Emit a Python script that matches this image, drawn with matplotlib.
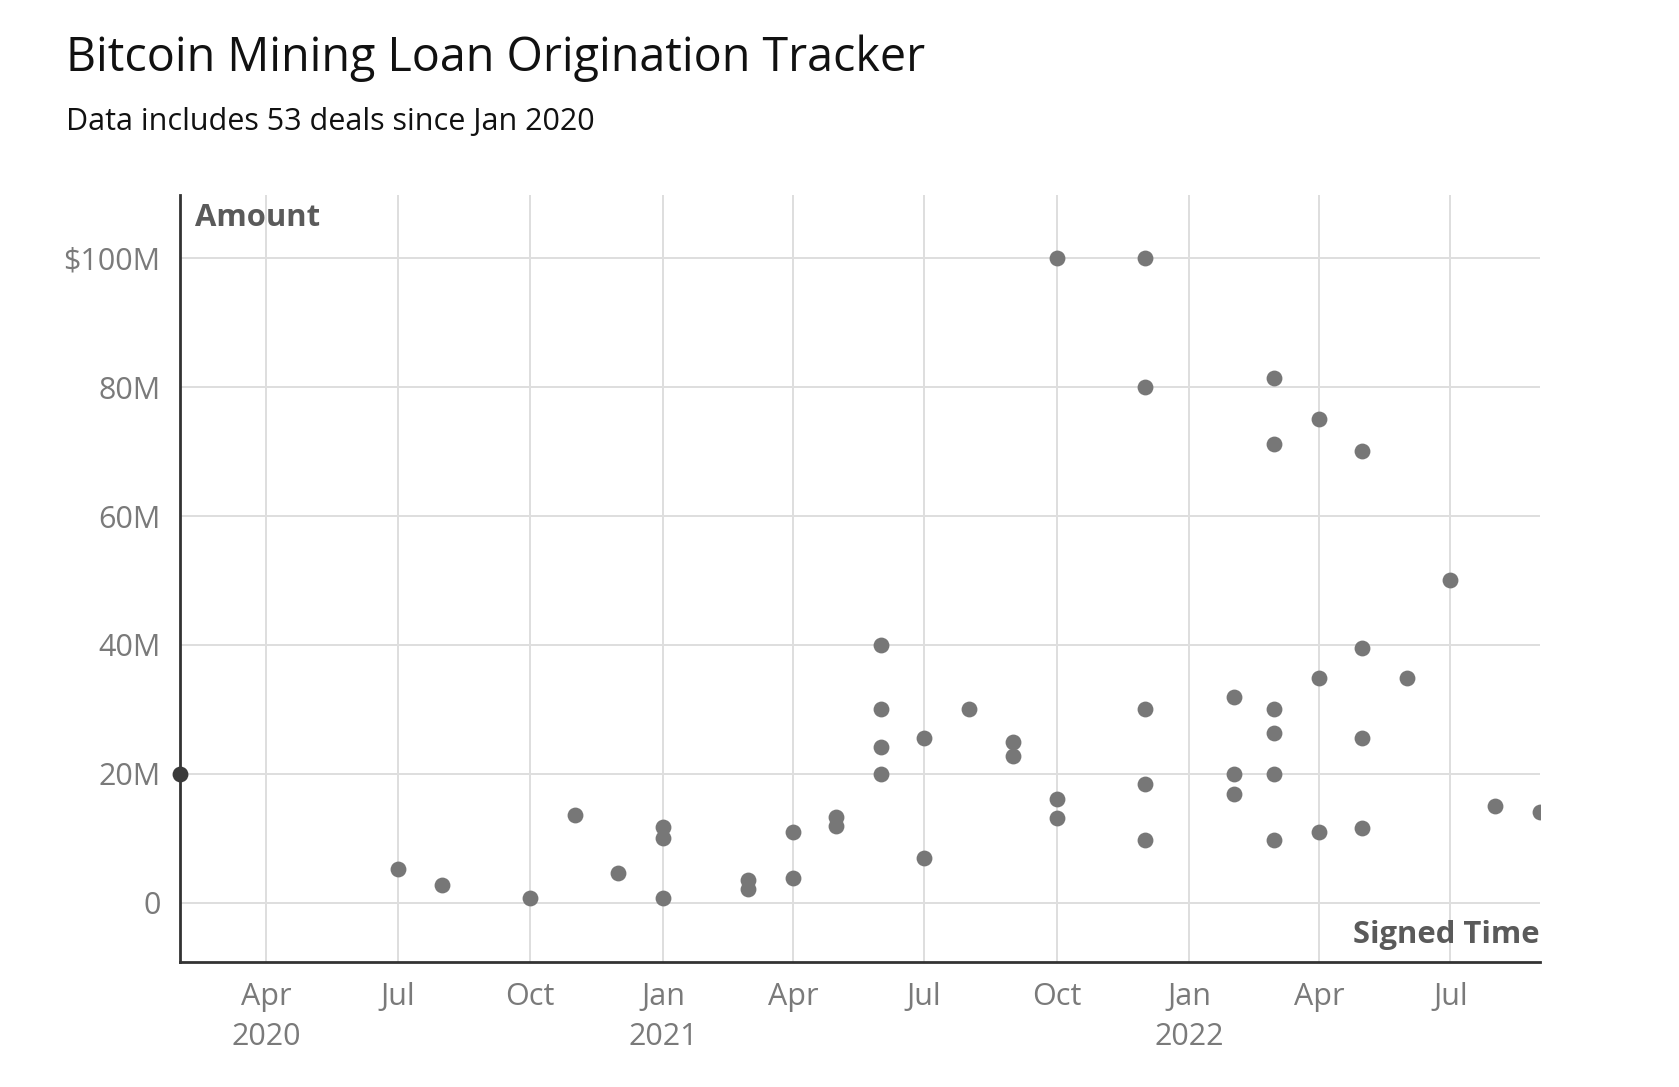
import pandas as pd
import matplotlib.pyplot as plt
import matplotlib.dates as mdates

plt.rcParams['font.family'] = ['Open Sans', 'DejaVu Sans']

# Loan deals: signed date (first of month) and amount in $M
signed = ['2020-02-01', '2020-07-01', '2020-08-01', '2020-10-01', '2020-11-01',
          '2020-12-01', '2021-01-01', '2021-01-01', '2021-01-01', '2021-03-01',
          '2021-03-01', '2021-04-01', '2021-04-01', '2021-05-01', '2021-05-01',
          '2021-06-01', '2021-06-01', '2021-06-01', '2021-06-01', '2021-07-01',
          '2021-07-01', '2021-08-01', '2021-09-01', '2021-09-01', '2021-10-01',
          '2021-10-01', '2021-10-01', '2021-12-01', '2021-12-01', '2021-12-01',
          '2021-12-01', '2021-12-01', '2022-02-01', '2022-02-01', '2022-02-01',
          '2022-03-01', '2022-03-01', '2022-03-01', '2022-03-01', '2022-03-01',
          '2022-03-01', '2022-04-01', '2022-04-01', '2022-04-01', '2022-05-01',
          '2022-05-01', '2022-05-01', '2022-05-01', '2022-06-01', '2022-07-01',
          '2022-08-01', '2022-09-01']
amount = [20, 5.2, 2.8, 0.7, 13.6,
          4.7, 11.8, 10.0, 0.8, 3.6,
          2.2, 11.0, 3.8, 13.3, 12.0,
          40, 30, 24.1, 20, 25.6,
          7.0, 30, 24.9, 22.8, 100,
          16.1, 13.1, 100, 80, 30,
          18.4, 9.8, 31.9, 20, 16.9,
          81.4, 71.1, 30, 26.4, 20,
          9.8, 75.1, 34.9, 11.0, 70.1,
          39.5, 25.6, 11.6, 34.9, 50,
          15.0, 14.1]

xticks = ['2020-04-01', '2020-07-01', '2020-10-01', '2021-01-01', '2021-04-01',
          '2021-07-01', '2021-10-01', '2022-01-01', '2022-04-01', '2022-07-01']
xticklabels = ['Apr\n2020', 'Jul', 'Oct', 'Jan\n2021', 'Apr', 'Jul', 'Oct',
               'Jan\n2022', 'Apr', 'Jul']
yticks = [0, 20, 40, 60, 80, 100]
yticklabels = ['0', '20M', '40M', '60M', '80M', '$100M']

df = pd.DataFrame({'signed': pd.to_datetime(signed), 'amount': amount})
x_start = df['signed'].min()
x_end = df['signed'].max()

fig = plt.figure(figsize=(16.79, 10.87), dpi=100)
ax = fig.add_axes([0.1071, 0.1154, 0.81, 0.7053])

first = df['signed'] == x_start
rest = df[~first]
ax.scatter(rest['signed'], rest['amount'], s=130, color='#777777', zorder=3, linewidths=0)
# the earliest deal sits on the y axis line and is drawn in full
ax.scatter(df[first]['signed'], df[first]['amount'], s=130, color='#3a3a3a',
           zorder=5, linewidths=0, clip_on=False)

ax.set_xlim(x_start, x_end)
ax.set_ylim(-9.1, 109.8)

ax.set_xticks(mdates.date2num(pd.to_datetime(xticks)))
ax.set_xticklabels(xticklabels)
ax.set_yticks(yticks)
ax.set_yticklabels(yticklabels)

ax.tick_params(axis='both', length=0, labelsize=22, labelcolor='#7a7a7a')
ax.tick_params(axis='x', pad=15)
ax.tick_params(axis='y', pad=14)
for lbl in ax.get_xticklabels():
    lbl.set_linespacing(1.4)

ax.grid(True, color='#dedede', linewidth=1.4, zorder=0)
ax.set_axisbelow(True)
for side in ['top', 'right']:
    ax.spines[side].set_visible(False)
for side in ['left', 'bottom']:
    ax.spines[side].set_color('#333333')
    ax.spines[side].set_linewidth(2)
    ax.spines[side].set_zorder(4)

ax.text(0.011, 0.99, 'Amount', transform=ax.transAxes, ha='left', va='top',
        fontsize=22.3, fontweight='bold', color='#5a5a5a')
ax.text(1.0, 0.015, 'Signed Time', transform=ax.transAxes, ha='right', va='bottom',
        fontsize=22.3, fontweight='bold', color='#5a5a5a')

fig.text(0.0395, 0.935, 'Bitcoin Mining Loan Origination Tracker',
         fontsize=33.6, color='#111111', ha='left', va='baseline')
fig.text(0.0395, 0.88, 'Data includes 53 deals since Jan 2020',
         fontsize=22, color='#111111', ha='left', va='baseline')

fig.savefig('out.png', dpi=100)
